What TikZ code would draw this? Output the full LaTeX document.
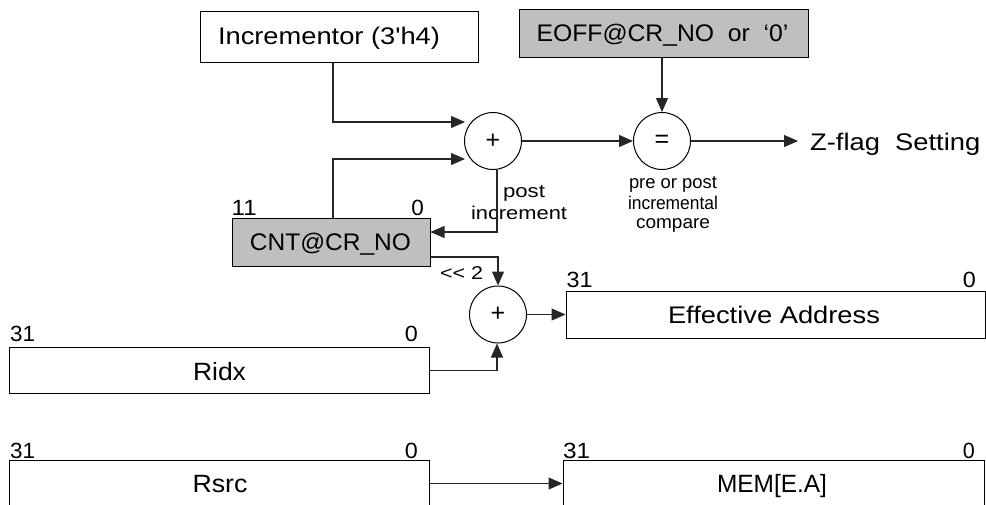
\documentclass[tikz,border=0pt]{standalone}
\usepackage{fontspec}
\setmainfont{Liberation Sans}
\usetikzlibrary{arrows.meta,calc}
\newcommand\tw[2]{\resizebox{#1pt}{\height}{#2}}
\begin{document}
\begin{tikzpicture}[x=1pt,y={(0pt,-1pt)},
  box/.style={draw=black,line width=1pt,inner sep=0pt,rectangle},
  gbox/.style={box,fill=black!25},
  op/.style={draw=black,line width=1pt,circle,minimum size=57pt,inner sep=0pt,font=\fontsize{25}{26}\selectfont},
  arr/.style={draw=black!85,line width=1.1pt,-{Triangle[length=14pt,width=12pt]}},
  lbl/.style={inner sep=0pt,font=\fontsize{24}{26}\selectfont},
  big/.style={inner sep=0pt,font=\fontsize{25}{27}\selectfont},
  bit/.style={inner sep=0pt,font=\fontsize{22}{24}\selectfont,anchor=base west},
  bitr/.style={inner sep=0pt,font=\fontsize{22}{24}\selectfont,anchor=base east},
  small/.style={inner sep=0pt,font=\fontsize{18.5}{20}\selectfont,anchor=base}]
\useasboundingbox (0,0) rectangle (986,504);
\clip (0,0) rectangle (986,504);

% boxes and operators
\node[box,minimum width=278pt,minimum height=51pt] (inc) at (339,36.5) {};
\node[gbox,minimum width=289pt,minimum height=48pt] (eoff) at (663.5,33) {};
\node[op] (p1) at (493,141) {+};
\node[op] (eq) at (662,141) {=};
\node[gbox,minimum width=198pt,minimum height=48pt] (cnt) at (331,242) {};
\node[op] (p2) at (498,314.5) {+};
\node[box,minimum width=419pt,minimum height=46.5pt] (ea) at (775.5,315) {};
\node[box,minimum width=420pt,minimum height=46.5pt] (ridx) at (219.5,370.7) {};
\node[box,minimum width=420pt,minimum height=46pt] (rsrc) at (219.5,483.5) {};
\node[box,minimum width=421pt,minimum height=46pt] (mem) at (773.5,483.5) {};

% texts
\node[lbl,anchor=base] (tinc) at (329,44.5) {\tw{222}{Incrementor (3\textquotesingle h4)}};
\node[lbl,anchor=base] (teoff) at (662.5,41.5) {\tw{252}{EOFF@CR\_NO\ \ or\ \ ‘0’}};
\node[lbl,anchor=base] (tcnt) at (330.5,250.5) {\tw{161}{CNT@CR\_NO}};
\node[lbl,anchor=base] (tea) at (774,323.5) {\tw{212}{Effective Address}};
\node[lbl,anchor=base west] (tz) at (810,150) {\tw{170}{Z-flag\ \ Setting}};
\node[big,anchor=base] (tridx) at (219.5,380) {\tw{53}{Ridx}};
\node[big,anchor=base] (trsrc) at (220,492) {\tw{55}{Rsrc}};
\node[big,anchor=base] (tmem) at (772,492) {\tw{110}{MEM[E.A]}};

% bit labels
\node[bit] (b11) at (231.5,215) {\tw{25}{11}};
\node[bitr] (b0c) at (424,215) {\tw{12.5}{0}};
\node[bit] (b31e) at (566.5,287) {\tw{26}{31}};
\node[bitr] (b0e) at (976,287) {\tw{13}{0}};
\node[bit] (b31r) at (10,341) {\tw{25}{31}};
\node[bitr] (b0r) at (418,341) {\tw{13}{0}};
\node[bit] (b31s) at (10,458) {\tw{25}{31}};
\node[bitr] (b0s) at (418,458) {\tw{13}{0}};
\node[bit] (b31m) at (563,458) {\tw{27}{31}};
\node[bitr] (b0m) at (975,458) {\tw{12}{0}};

% small notes
\node[small] (tpost) at (524,197) {\tw{42}{post}};
\node[small] (tincr) at (519,219) {\tw{96}{increment}};
\node[small] (tpre) at (673,188) {\tw{88}{pre or post}};
\node[small] (tincl) at (673,209) {\tw{90}{incremental}};
\node[small] (tcmp) at (673,228) {\tw{74}{compare}};
\node[small] (tsh) at (461.5,279) {\tw{43}{<{}< 2}};

% connectors
\coordinate (a1) at (465,122);
\coordinate (a2) at (465,159);
\coordinate (zf) at (798,141);
\coordinate (pi) at (497,232);
\coordinate (sh) at (498,257);
\draw[arr] ([xshift=-6pt]inc.south) |- (a1);
\draw[arr] ([xshift=2pt]cnt.north) |- (a2);
\draw[arr] (p1.east) -- (eq.west);
\draw[arr] (eoff.south -| eq.north) -- (eq.north);
\draw[arr] (eq.east) -- (zf);
\draw[arr] ([xshift=4pt]p1.south) |- (cnt.east |- pi);
\draw[arr] (cnt.east |- sh) -| (p2.north);
\draw[arr] (ridx.east) -| ([xshift=-1pt]p2.south);
\draw[arr] (p2.east) -- (p2.east -| ea.west);
\draw[arr] (rsrc.east) -- (mem.west);
\end{tikzpicture}
\end{document}
